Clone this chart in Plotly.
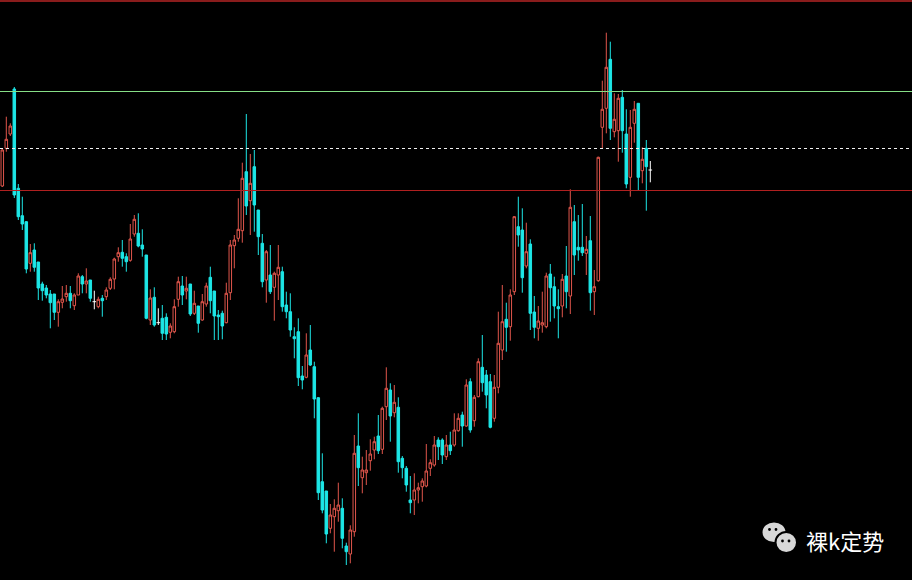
import plotly.graph_objects as go

# ---- data (price units) ----
opens = [394, 431.7, 446, 491, 391.7, 364.3, 358.3, 316.7, 330, 318,
         296, 292, 286, 286, 267.7, 277.7, 283.3, 286.7, 274.3, 285,
         303.3, 296, 300, 278.3, 273.3, 281.7, 283.3, 291.7, 301, 323.3,
         327.7, 323.3, 319.7, 346, 346.7, 335, 325, 260, 282.7, 257.3,
         261.7, 262.7, 247.7, 248.3, 280.7, 294, 289, 296, 266.7, 274,
         260, 276, 302.7, 289, 265, 266.7, 257.3, 287.3, 334.3, 341.7,
         349.3, 408.3, 379.3, 413.3, 370, 336.7, 300, 305, 292.7, 305,
         308.3, 275, 268.3, 243.3, 248.3, 204, 202.7, 230, 213.3, 182.3,
         98.3, 89, 51.7, 63.3, 69.3, 71.7, 34, 26, 48.3, 134,
         102.3, 107.3, 119.3, 130, 144, 130.7, 173.3, 190, 167.3, 172.7,
         121.7, 111.7, 80, 80, 90, 93.3, 94, 111.7, 115, 140,
         140, 123.3, 135, 135, 149.3, 165, 154, 198.3, 159.3, 183.3,
         212.7, 205, 198.3, 161.7, 192.7, 230, 260.7, 253.3, 288.3, 353.3,
         350, 314, 336, 268, 251.7, 255, 253.3, 306, 293.3, 273.3,
         274, 304, 284, 358.3, 332.7, 332.7, 326.7, 339.3, 288.3, 299.3,
         452.7, 471.7, 520.7, 448.3, 449.3, 482.7, 446, 402.7, 456.7, 476.7,
         409.3, 431.7, 410]
highs = [432, 463.3, 456.7, 493, 396, 383.3, 359, 336, 336.7, 318,
         298.3, 295, 290, 286, 280.7, 294, 295, 294, 286.7, 306.7,
         305, 311.7, 300, 289.3, 283.3, 285, 292.7, 302.7, 322.3, 332.7,
         340, 326.7, 356, 365, 366.7, 350.7, 325, 290.7, 292.7, 271.7,
         275, 266.7, 256.7, 280.7, 303.3, 304, 303.3, 296, 289.3, 274,
         286, 297.3, 313.3, 289, 270, 269.3, 297.3, 340, 345, 381.7,
         417.3, 466, 426, 430, 370, 346, 330, 335, 308.3, 335,
         313.3, 288.3, 286.7, 252.7, 261.7, 214, 246.7, 255, 218.3, 183,
         126.7, 89, 76, 80.7, 97.3, 81.7, 37.3, 54.7, 145, 166.7,
         123.3, 130, 140.7, 143.3, 165, 173.3, 212.7, 196.7, 195, 182.7,
         124, 114, 104, 106.7, 97.3, 101.7, 136, 120.7, 144, 142.7,
         141.7, 145, 148.3, 166.7, 166.7, 168.3, 200.7, 201.7, 185, 221.7,
         245, 210, 206, 205, 268.3, 295, 277.3, 290.7, 364, 383.3,
         371.7, 357.3, 340.7, 284, 274, 288.3, 307.3, 316, 303.3, 290.7,
         306, 334, 390.7, 375, 365, 376, 344, 364, 310, 423.3,
         499.3, 547.3, 538.3, 486.7, 486, 490, 470.7, 470, 479, 476.7,
         432.7, 440, 419]
lows = [393, 428.3, 444, 382, 360, 350, 306.7, 308.3, 308.3, 280,
        279.3, 281.7, 251.7, 260, 253.3, 271.7, 278.3, 271.7, 270, 285,
        286.7, 286.7, 278.3, 270.7, 271.7, 263.3, 280, 290, 290.7, 318.3,
        313.3, 308.3, 318.3, 343.3, 332.7, 323.3, 260.7, 255, 253.3, 255,
        240, 240, 241.7, 246.7, 273.3, 275, 280.7, 264, 265, 247.3,
        259.3, 273.3, 266.7, 240, 240, 240.7, 256.7, 280, 311.7, 338.3,
        337.3, 365, 345, 348.3, 325, 292.7, 277.3, 286, 259.3, 280,
        268.3, 261.7, 243.3, 221.7, 194, 190.7, 201.7, 214, 161.7, 80,
        66.7, 36.7, 46.7, 28.3, 58.3, 31.7, 15, 16.7, 43.3, 94,
        86.7, 95, 109.3, 120.7, 126, 126, 160, 138.3, 162.7, 107.3,
        101.7, 88.3, 66.7, 65, 76.7, 78.3, 92.7, 104, 113.3, 120,
        116, 120, 125, 133.3, 148.3, 133.3, 153.3, 147.3, 153.3, 182.7,
        188.3, 171.7, 151.7, 158.3, 186.7, 220, 228.3, 239.3, 285, 333.3,
        287.3, 311.7, 250, 241.7, 239.3, 247.3, 251.7, 258.3, 261.7, 241.7,
        262.7, 271.7, 266, 305, 319.3, 324, 305, 269.3, 265, 298.3,
        431.7, 446.7, 440, 442.7, 418.3, 427.3, 391.7, 383.3, 437.3, 389.3,
        396.7, 369.3, 397.7]
closes = [430, 440.7, 454, 385, 363.3, 356, 311, 327.3, 312.7, 292,
          289.3, 285, 277.3, 267.7, 278.3, 281, 286.7, 279.3, 285, 304,
          296, 299, 281.7, 278.3, 280.7, 279.3, 290, 300.7, 321, 327.3,
          321.7, 318.3, 341, 360.7, 334, 331, 261.7, 282, 255, 257.3,
          246.7, 246, 254, 273.3, 298.3, 285, 291.7, 266, 276.7, 256.7,
          278.3, 294, 279.3, 264, 263.3, 254, 286.7, 335, 340, 350.7,
          401.7, 374, 396.7, 375, 343.3, 298.3, 328.3, 288.3, 306.7, 312.7,
          273.3, 268.3, 250, 241.3, 202.3, 200, 225, 215, 181, 87.3,
          70, 46, 65, 71.7, 75, 41.7, 28.3, 50, 126.7, 112.3,
          110, 110, 126, 138.3, 129.3, 171.7, 191.7, 164, 177.7, 118.3,
          112.3, 95, 77.3, 90, 92.3, 99, 109, 117.3, 135, 133.3,
          125, 135, 129.3, 150, 161.7, 154, 195, 150, 182.7, 218.3,
          197.3, 185, 152.7, 192.7, 236.7, 258.3, 252.7, 285, 363.3, 345,
          302.3, 328.3, 266.7, 252.7, 259, 257.3, 304, 292.3, 274, 271.3,
          300.7, 288.3, 372.7, 325, 330, 327.3, 330.7, 287.3, 293.3, 422.7,
          470.7, 512.7, 451.7, 460.7, 481.7, 449.3, 396, 452.7, 470.7, 402.7,
          420.7, 413.3, 410]
levels = [579, 488.5, 431.5, 389.5]  # top border, resistance, mid (dashed), support
level_colors = ["#8a1c1c", "#86de86", "#f0f0f0", "#b02020"]
level_dash = ["solid", "solid", "3px,3px", "solid"]
level_width = [2, 1, 1, 1]
watermark = "裸k定势"

idx = list(range(len(opens)))
nd = [i for i in idx if opens[i] != closes[i]]
dj = [i for i in idx if opens[i] == closes[i]]

fig = go.Figure()
fig.add_trace(go.Candlestick(
    x=[idx[i] for i in nd],
    open=[opens[i] for i in nd], high=[highs[i] for i in nd],
    low=[lows[i] for i in nd], close=[closes[i] for i in nd],
    increasing=dict(line=dict(color="#e0564c", width=1), fillcolor="#000000"),
    decreasing=dict(line=dict(color="#1de6e6", width=1), fillcolor="#1de6e6"),
    whiskerwidth=0, hoverinfo="skip", showlegend=False,
))

# doji candles (open == close) drawn in white
dx, dy = [], []
for i in dj:
    dx += [i, i, None, i - 0.45, i + 0.45, None]
    dy += [lows[i], highs[i], None, opens[i], opens[i], None]
fig.add_trace(go.Scatter(x=dx, y=dy, mode="lines",
                         line=dict(color="#ffffff", width=1),
                         hoverinfo="skip", showlegend=False))

shapes = []
for lv, col, ds, lw in zip(levels, level_colors, level_dash, level_width):
    shapes.append(dict(type="line", xref="paper", x0=0, x1=1, yref="y", y0=lv, y1=lv,
                       line=dict(color=col, width=lw, dash=ds)))

# WeChat-style icon (two bubbles)
W, H = 912, 580
def px(x): return x / W
def py(y): return 1 - y / H
shapes.append(dict(type="circle", xref="paper", yref="paper",
                   x0=px(762.5), x1=px(785.5), y0=py(542), y1=py(522.5),
                   fillcolor="#d8d8d8", line=dict(color="#000000", width=0)))
shapes.append(dict(type="circle", xref="paper", yref="paper",
                   x0=px(775.5), x1=px(797), y0=py(553), y1=py(532),
                   fillcolor="#d8d8d8", line=dict(color="#000000", width=2)))
for ex, ey in [(769.5, 529.5), (776, 529.5), (782.5, 541), (789, 541)]:
    shapes.append(dict(type="circle", xref="paper", yref="paper",
                       x0=px(ex - 1.4), x1=px(ex + 1.4), y0=py(ey + 1.4), y1=py(ey - 1.4),
                       fillcolor="#000000", line=dict(width=0)))

fig.update_layout(
    width=W, height=H,
    margin=dict(l=0, r=0, t=0, b=0),
    paper_bgcolor="#000000", plot_bgcolor="#000000",
    boxgap=0.1,
    xaxis=dict(visible=False, range=[-0.575, 227.425], rangeslider=dict(visible=False),
               fixedrange=True),
    yaxis=dict(visible=False, range=[0, 580], fixedrange=True),
    shapes=shapes,
    annotations=[dict(text=watermark, xref="paper", yref="paper",
                      x=px(804), y=py(540), xanchor="left", yanchor="middle",
                      showarrow=False,
                      font=dict(family="Noto Sans CJK SC", size=22, color="#ffffff"))],
    showlegend=False,
)

fig.write_html("out.html", config={"displayModeBar": False},
               post_script="document.body.style.margin='0';document.body.style.background='#000';")
